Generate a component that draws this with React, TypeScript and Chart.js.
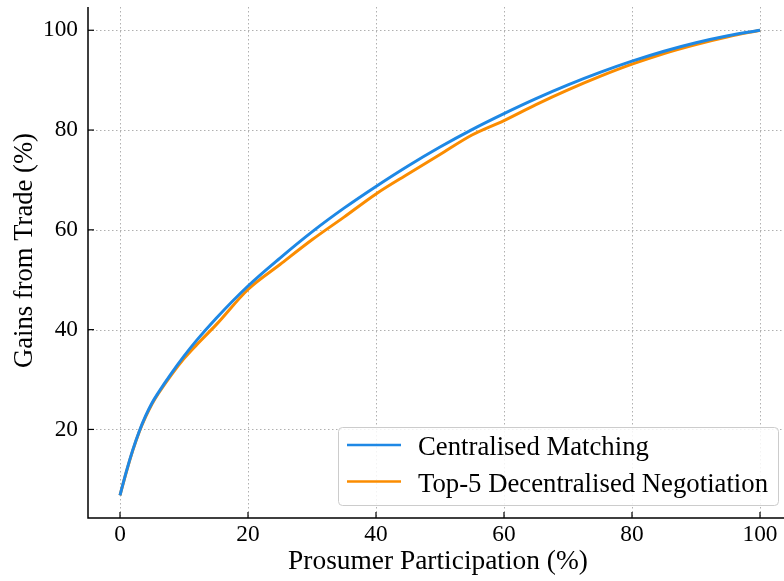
import React, { useEffect, useRef } from "react";
import { Chart, registerables } from "chart.js";
Chart.register(...registerables);

const participation = [0, 1, 2, 3, 4, 5, 6, 8, 10, 12, 15, 20, 25, 30, 35, 40, 45, 50, 55, 60, 65, 70, 75, 80, 85, 90, 95, 100];
const centralised = [6.8, 11.6, 15.9, 19.6, 22.7, 25.3, 27.4, 31.2, 34.7, 37.9, 42.25, 48.75, 54.35, 59.6, 64.35, 68.7, 72.8, 76.6, 80.1, 83.3, 86.3, 89.05, 91.55, 93.8, 95.8, 97.5, 98.9, 100.0];
const decentralised = [6.8, 11.5, 15.8, 19.5, 22.5, 25.1, 27.2, 30.9, 34.2, 37.0, 40.95, 48.05, 53.05, 58.0, 62.55, 67.2, 71.2, 75.1, 79.0, 81.9, 85.1, 88.05, 90.75, 93.2, 95.35, 97.15, 98.7, 100.0];
const xTicks = [0, 20, 40, 60, 80, 100];
const yTicks = [20, 40, 60, 80, 100];
const seriesLabels = ["Centralised Matching", "Top-5 Decentralised Negotiation"];
const seriesColors = ["#1E88E5", "#FB8C00"];
const xTitle = "Prosumer Participation (%)";
const yTitle = "Gains from Trade (%)";

const FAMILY = '"Liberation Serif", "Times New Roman", serif';

function fitSize(text: string, width: number): number {
  const ctx = document.createElement("canvas").getContext("2d")!;
  ctx.font = `100px ${FAMILY}`;
  return (100 * width) / ctx.measureText(text).width;
}

export default function App() {
  const ref = useRef<HTMLCanvasElement>(null);
  useEffect(() => {
    const tickSize = Math.min(fitSize("100", 35), 25);
    const xTitleSize = fitSize(xTitle, 300);
    const yTitleSize = fitSize(yTitle, 235);
    const legendSize = fitSize(seriesLabels[0], 231);

    const decor = {
      id: "decor",
      beforeDatasetsDraw(chart: any) {
        const { ctx, chartArea: a, scales } = chart;
        const xs = scales.x, ys = scales.y;
        ctx.save();
        ctx.strokeStyle = "#b0b0b0";
        ctx.lineWidth = 1;
        ctx.setLineDash([1.5, 2.5]);
        xTicks.forEach((v) => {
          const px = Math.round(xs.getPixelForValue(v)) + 0.5;
          ctx.beginPath();
          ctx.moveTo(px, a.top);
          ctx.lineTo(px, a.bottom);
          ctx.stroke();
        });
        yTicks.forEach((v) => {
          const py = Math.round(ys.getPixelForValue(v)) + 0.5;
          ctx.beginPath();
          ctx.moveTo(a.left, py);
          ctx.lineTo(a.right, py);
          ctx.stroke();
        });
        ctx.restore();
      },
      afterDatasetsDraw(chart: any) {
        const { ctx, chartArea: a, scales } = chart;
        const xs = scales.x, ys = scales.y;
        ctx.save();
        ctx.strokeStyle = "#000";
        ctx.lineWidth = 1.5;
        ctx.setLineDash([]);
        ctx.beginPath();
        ctx.moveTo(a.left, a.top);
        ctx.lineTo(a.left, a.bottom);
        ctx.lineTo(a.right, a.bottom);
        ctx.stroke();
        ctx.lineWidth = 1.2;
        xTicks.forEach((v) => {
          const px = xs.getPixelForValue(v);
          ctx.beginPath();
          ctx.moveTo(px, a.bottom);
          ctx.lineTo(px, a.bottom - 6);
          ctx.stroke();
        });
        yTicks.forEach((v) => {
          const py = ys.getPixelForValue(v);
          ctx.beginPath();
          ctx.moveTo(a.left, py);
          ctx.lineTo(a.left + 6, py);
          ctx.stroke();
        });
        ctx.fillStyle = "#000";
        ctx.textAlign = "center";
        ctx.textBaseline = "alphabetic";
        ctx.font = `${xTitleSize}px ${FAMILY}`;
        ctx.fillText(xTitle, (a.left + a.right) / 2 + 2, a.bottom + 51);
        ctx.save();
        ctx.translate(a.left - 63, (a.top + a.bottom) / 2 - 12);
        ctx.rotate(-Math.PI / 2);
        ctx.font = `${yTitleSize}px ${FAMILY}`;
        ctx.textBaseline = "middle";
        ctx.fillText(yTitle, 0, 0);
        ctx.restore();
        const bx = a.right - 446, by = a.bottom - 91, bw = 440, bh = 78;
        ctx.fillStyle = "rgba(255,255,255,0.85)";
        ctx.strokeStyle = "#cccccc";
        ctx.lineWidth = 1;
        ctx.beginPath();
        (ctx as any).roundRect(bx + 0.5, by + 0.5, bw, bh, 4);
        ctx.fill();
        ctx.stroke();
        ctx.font = `${legendSize}px ${FAMILY}`;
        ctx.textAlign = "left";
        ctx.textBaseline = "alphabetic";
        chart.data.datasets.forEach((ds: any, i: number) => {
          const ly = by + 18 + i * 36.5;
          ctx.strokeStyle = ds.borderColor;
          ctx.lineWidth = 2.6;
          ctx.beginPath();
          ctx.moveTo(bx + 9, ly);
          ctx.lineTo(bx + 63, ly);
          ctx.stroke();
          ctx.fillStyle = "#000";
          ctx.fillText(ds.label, bx + 80, ly + 10);
        });
        ctx.restore();
      },
    };

    const chart = new Chart(ref.current!, {
      type: "line",
      data: {
        datasets: [
          {
            label: seriesLabels[0],
            data: participation.map((x, i) => ({ x, y: centralised[i] })),
            borderColor: seriesColors[0],
            backgroundColor: seriesColors[0],
            borderWidth: 3,
            pointRadius: 0,
            cubicInterpolationMode: "monotone",
          },
          {
            label: seriesLabels[1],
            data: participation.map((x, i) => ({ x, y: decentralised[i] })),
            borderColor: seriesColors[1],
            backgroundColor: seriesColors[1],
            borderWidth: 3,
            pointRadius: 0,
            cubicInterpolationMode: "monotone",
          },
        ],
      },
      options: {
        animation: false,
        responsive: false,
        devicePixelRatio: 1,
        layout: { padding: { top: 7, right: 0, left: 0, bottom: 0 } },
        plugins: { legend: { display: false }, tooltip: { enabled: false } },
        scales: {
          x: {
            type: "linear",
            min: -5,
            max: 103.75,
            afterBuildTicks: (s: any) => {
              s.ticks = xTicks.map((v) => ({ value: v }));
            },
            afterFit: (s: any) => {
              s.height = 63;
              s.paddingLeft = 0;
              s.paddingRight = 0;
            },
            grid: { display: false, drawTicks: false },
            border: { display: false },
            ticks: {
              color: "#000",
              font: { family: FAMILY, size: tickSize },
              padding: 3,
              maxRotation: 0,
              autoSkip: false,
            },
          },
          y: {
            type: "linear",
            min: 2.25,
            max: 104.66,
            afterBuildTicks: (s: any) => {
              s.ticks = yTicks.map((v) => ({ value: v }));
            },
            afterFit: (s: any) => {
              s.width = 88;
              s.paddingTop = 0;
              s.paddingBottom = 0;
            },
            grid: { display: false, drawTicks: false },
            border: { display: false },
            ticks: {
              color: "#000",
              font: { family: FAMILY, size: tickSize },
              padding: 10,
              autoSkip: false,
            },
          },
        },
      },
      plugins: [decor],
    } as any);
    return () => chart.destroy();
  }, []);
  return (
    <div style={{ position: "absolute", left: 0, top: 0, width: 784, height: 581, background: "#fff" }}>
      <canvas ref={ref} width={784} height={581} />
    </div>
  );
}
